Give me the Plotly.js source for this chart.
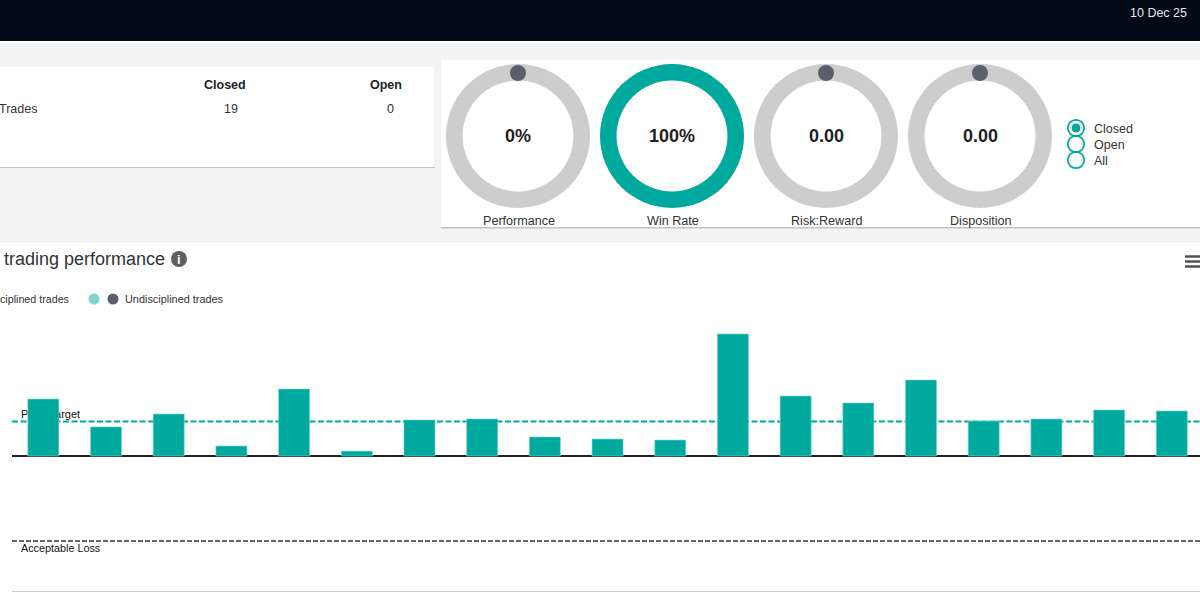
<!DOCTYPE html>
<html>
<head>
<meta charset="utf-8">
<script src="https://cdn.plot.ly/plotly-3.0.1.min.js"></script>
<style>html,body{margin:0;padding:0;background:#fff;overflow:hidden}#chart{width:1200px;height:592px}</style>
</head>
<body>
<div id="chart"></div>
<script>
// ---- data ----
const tradeIds = [1,2,3,4,5,6,7,8,9,10,11,12,13,14,15,16,17,18,19];
const tradeReturns = [3.35,1.71,2.47,0.59,3.94,0.29,2.12,2.18,1.12,1.0,0.94,7.18,3.53,3.12,4.47,2.06,2.18,2.71,2.65];
const profitTarget = 2.03;
const acceptableLoss = -5;
const gaugeLabels = ['Performance','Win Rate','Risk:Reward','Disposition'];
const gaugeTexts = ['0%','100%','0.00','0.00'];
const gaugeFilled = [0,100,0,0];
const gaugeEmpty = [100,0,100,100];
const radioLabels = ['Closed','Open','All'];

// ---- style ----
const TEAL='#00a99d', TEAL_LIGHT='#80d4ce', GREY='#cdcdcd', SLATE='#5b5e6b', INK='#333333';
const W=1200,H=592;
const px=x=>x/W, py=y=>1-y/H;
const FONT='Arial, "Liberation Sans", sans-serif';

const rect=(x0,y0,x1,y1,fill)=>({type:'rect',xref:'paper',yref:'paper',layer:'below',x0:px(x0),x1:px(x1),y0:py(y0),y1:py(y1),fillcolor:fill,line:{width:0}});
const circle=(cx,cy,r,fill,stroke,lw,layer)=>({type:'circle',xref:'paper',yref:'paper',layer:layer||'above',x0:px(cx-r),x1:px(cx+r),y0:py(cy+r),y1:py(cy-r),fillcolor:fill,line:{color:stroke||fill,width:lw||0}});
const hline=(x0,x1,y,color,w)=>({type:'line',xref:'paper',yref:'paper',layer:'above',x0:px(x0),x1:px(x1),y0:py(y),y1:py(y),line:{color:color,width:w}});
const note=(x,y,text,size,color,anchor,bold)=>({xref:'paper',yref:'paper',x:px(x),y:py(y),text:bold?'<b>'+text+'</b>':text,showarrow:false,xanchor:anchor||'center',yanchor:'middle',font:{family:FONT,size:size,color:color||INK},borderpad:0,borderwidth:0});

const gaugeX=[518,672,826,980], gaugeY=136, gaugeR=72;

const traces=[{
  type:'bar',x:tradeIds,y:tradeReturns,width:0.495,
  marker:{color:TEAL,line:{color:TEAL_LIGHT,width:0.6}},hoverinfo:'x+y',xaxis:'x',yaxis:'y'
}];
gaugeLabels.forEach((name,i)=>traces.push({
  type:'pie',name:name,values:[gaugeFilled[i],gaugeEmpty[i]],labels:['Filled','Empty'],
  marker:{colors:[TEAL,GREY],line:{width:0}},hole:0.77,sort:false,direction:'clockwise',
  textinfo:'none',hoverinfo:'skip',showlegend:false,
  domain:{x:[px(gaugeX[i]-gaugeR),px(gaugeX[i]+gaugeR)],y:[py(gaugeY+gaugeR),py(gaugeY-gaugeR)]}
}));

const shapes=[
  rect(0,0,1200,41,'#020a17'),
  rect(0,43,1200,241,'#f4f4f4'),
  rect(0,166.5,435,168,'#c4c4c4'),
  rect(0,67,434,167,'#ffffff'),
  rect(441,226.5,1200,228.5,'#c4c4c4'),
  rect(441,60,1200,227,'#ffffff'),
  rect(0,241,1200,242,'#ececec'),
  {type:'line',xref:'paper',yref:'y',layer:'below',x0:px(12),x1:1,y0:profitTarget,y1:profitTarget,
   line:{color:TEAL,width:2,dash:'6px,2.5px'}},
  {type:'line',xref:'paper',yref:'y',layer:'below',x0:px(18),x1:px(120),y0:profitTarget,y1:profitTarget,
   line:{color:'rgba(0,0,0,0)',width:0},
   label:{text:'Profit Target',textposition:'start',xanchor:'left',yanchor:'bottom',textangle:0,padding:3,font:{family:FONT,size:11,color:'#111111'}}},
  {type:'line',xref:'paper',yref:'y',layer:'above',x0:px(12),x1:1,y0:acceptableLoss,y1:acceptableLoss,
   line:{color:INK,width:1.5,dash:'5px,2px'}},
  hline(12,1200,591.5,'#c8d0e0',1.2),
  circle(94,299,5.5,TEAL_LIGHT),
  circle(113,299,5.5,SLATE),
  circle(179,259,8,'#5f5f5f'),
  hline(1185,1200,256.5,'#555555',2.5),
  hline(1185,1200,261.5,'#555555',2.5),
  hline(1185,1200,266.5,'#555555',2.5),
  circle(1076,128,4.5,TEAL)
];
gaugeX.forEach((x,i)=>{ if(gaugeFilled[i]===0) shapes.push(circle(x,73,8,SLATE)); });
radioLabels.forEach((l,i)=>shapes.push(circle(1076,128+16*i,8.2,'rgba(0,0,0,0)',TEAL,1.8)));

const annotations=[
  note(1158,13,'10 Dec 25',12.5,'#e8e8e8'),
  note(225,85,'Closed',12.5,'#222222','center',true),
  note(385.5,85,'Open',12.5,'#222222','center',true),
  note(-0.8,109,'Trades',12.5,INK,'left'),
  note(231.5,109,'19',12.5,INK),
  note(390,109,'0',12.5,INK),
  note(4,259.5,'trading performance',18,INK,'left'),
  note(179,259,'i',13,'#ffffff','center',true),
  note(69,299,'ciplined trades',10.7,INK,'right'),
  note(125,299,'Undisciplined trades',10.9,INK,'left'),
  note(21,548,'Acceptable Loss',10.8,'#111111','left')
];
gaugeLabels.forEach((l,i)=>{
  annotations.push(note(gaugeX[i],135.8,gaugeTexts[i],18,'#222222','center',true));
  annotations.push(note(gaugeX[i]+0.5,220.5,l,12.6,INK));
});
radioLabels.forEach((l,i)=>annotations.push(note(1094,129+15.8*i,l,12.5,INK,'left')));

const layout={
  width:W,height:H,margin:{l:0,r:0,t:0,b:0,pad:0},
  paper_bgcolor:'#ffffff',plot_bgcolor:'rgba(0,0,0,0)',showlegend:false,bargap:0.5,
  font:{family:FONT},
  xaxis:{domain:[px(12),1],range:[0.5,19.45],showgrid:false,showline:false,zeroline:false,showticklabels:false,ticks:'',fixedrange:true},
  yaxis:{domain:[py(591),py(310)],range:[-7.94,8.59],showgrid:false,showline:false,showticklabels:false,ticks:'',
         zeroline:true,zerolinecolor:'#222222',zerolinewidth:2,fixedrange:true},
  shapes:shapes,annotations:annotations
};
Plotly.newPlot('chart',traces,layout,{displayModeBar:false,responsive:false});
</script>
</body>
</html>
